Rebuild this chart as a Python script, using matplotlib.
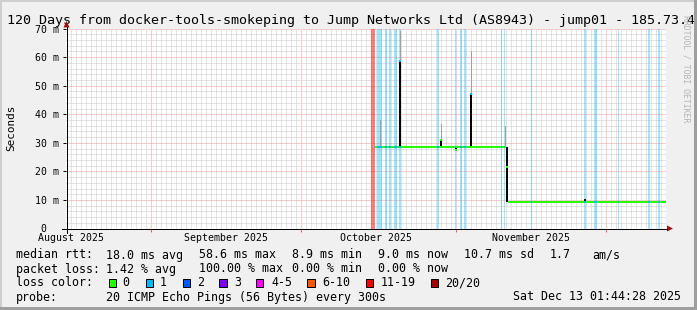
import datetime as dt
import matplotlib
matplotlib.use("Agg")
import matplotlib.pyplot as plt
import matplotlib.dates as mdates
import matplotlib.transforms as mtransforms
from matplotlib.patches import Rectangle, Polygon
from matplotlib.ticker import MultipleLocator, FuncFormatter, NullFormatter

plt.rcParams['font.family'] = ['DejaVu Sans Mono']

def ts(s):
    return dt.datetime.strptime(s, "%Y-%m-%d %H:%M")

t_end = dt.datetime(2025, 12, 13, 1, 44, 28)
t_start = t_end - dt.timedelta(days=120)

# periods with packet loss (pings lost out of 20)
loss_start = ["2025-10-15 03:00", "2025-10-16 08:10", "2025-10-17 22:30", "2025-10-18 17:45",
              "2025-10-19 17:45", "2025-10-20 17:45", "2025-10-28 08:10", "2025-10-31 22:30",
              "2025-11-01 22:30", "2025-11-02 17:45", "2025-11-10 03:20", "2025-11-10 17:45",
              "2025-11-16 03:20", "2025-11-26 17:45", "2025-11-28 17:45", "2025-12-03 13:00",
              "2025-12-09 13:00", "2025-12-11 13:00"]
loss_end = ["2025-10-15 22:30", "2025-10-17 08:10", "2025-10-18 08:10", "2025-10-19 03:20",
            "2025-10-20 08:10", "2025-10-21 03:20", "2025-10-28 15:20", "2025-11-01 03:20",
            "2025-11-02 08:10", "2025-11-03 03:20", "2025-11-10 08:10", "2025-11-10 22:30",
            "2025-11-16 08:10", "2025-11-27 03:20", "2025-11-29 08:10", "2025-12-03 17:45",
            "2025-12-09 22:30", "2025-12-11 22:30"]
loss_pings = [15, 1, 1, 1, 1, 1, 1, 1, 1, 1, 1, 1, 1, 1, 1, 1, 1, 1]

# median rtt (ms), flat stretches
med_start = ["2025-10-15 22:00", "2025-11-11 12:00"]
med_end = ["2025-11-11 04:00", "2025-12-13 01:44"]
med_value = [28.4, 9.2]

# single steps with a spread of ping times (ms)
spike_time = ["2025-10-16 22:30", "2025-10-20 22:30", "2025-10-29 03:20", "2025-11-01 00:10",
              "2025-11-04 03:20", "2025-11-10 22:30", "2025-11-11 08:10", "2025-11-26 22:30"]
spike_base = [28.4, 28.4, 28.4, 27.6, 28.4, 28.4, 9.2, 9.2]
spike_dense = [28.4, 58.6, 31.0, 28.4, 47.2, 28.4, 28.4, 10.4]
spike_smoke = [38.0, 69.0, 36.5, 28.4, 62.0, 35.8, 28.4, 10.4]
spike_median = [None, 58.6, 31.0, 27.6, 47.2, None, 21.4, None]
spike_loss = [0, 1, 0, 0, 1, 0, 0, 1]

loss_labels = ["0", "1", "2", "3", "4-5", "6-10", "11-19", "20/20"]
loss_limits = [0, 1, 2, 3, 5, 10, 19, 20]
loss_colors = ["#26ff00", "#00b8ff", "#0059ff", "#7e00ff", "#ff00ff", "#ff5500", "#ff0000", "#a00000"]

rtt_stats = [18.0, 58.6, 8.9, 9.0, 10.7, 1.7]
loss_stats = [1.42, 100.00, 0.00, 0.00]

title = "120 Days from docker-tools-smokeping to Jump Networks Ltd (AS8943) - jump01 - 185.73.4"
probe = "20 ICMP Echo Pings (56 Bytes) every 300s"
stamp = "Sat Dec 13 01:44:28 2025"


def loss_color(n):
    for lim, c in zip(loss_limits, loss_colors):
        if n <= lim:
            return c
    return loss_colors[-1]


W, H = 697, 310
X0, Y0, XS, YS = 66, 228.5, 600, 200

fig = plt.figure(figsize=(W / 100, H / 100), dpi=100, facecolor='#f0f0f0')

ax_bg = fig.add_axes([0, 0, 1, 1], zorder=-1)
ax_bg.set_xlim(0, W)
ax_bg.set_ylim(H, 0)
ax_bg.axis('off')

ax = fig.add_axes([X0 / W, (H - Y0) / H, XS / W, YS / H])
ax.set_facecolor('white')
for s in ax.spines.values():
    s.set_visible(False)
ax.set_axisbelow(True)

# loss bars
for s, e, n in zip(loss_start, loss_end, loss_pings):
    a = 0.5 if n > 10 else 0.36
    ax.axvspan(ts(s), ts(e), color=loss_color(n), alpha=a, lw=0, zorder=1)

# smoke
for t, b, d, sm in zip(spike_time, spike_base, spike_dense, spike_smoke):
    t = ts(t)
    if sm > d:
        ax.bar(t, sm - d, bottom=d, width=0.2, color='#a0a0a0', lw=0, zorder=2)
    if d > b:
        ax.bar(t, d - b, bottom=b, width=0.4, color='black', lw=0, zorder=2)

# median line, coloured by loss
for s, e, v in zip(med_start, med_end, med_value):
    ax.hlines(v, ts(s), ts(e), color=loss_colors[0], lw=1.45, zorder=3)
    for ls, le, n in zip(loss_start, loss_end, loss_pings):
        a, b = max(ts(s), ts(ls)), min(ts(e), ts(le))
        if a < b and n <= 3:
            ax.hlines(v, a, b, color=loss_color(n), lw=1.45, zorder=3)
for t, m, n in zip(spike_time, spike_median, spike_loss):
    if m is not None:
        ax.plot(ts(t), m, marker='s', ms=1.6, mew=0, color=loss_color(n), zorder=4)

ax.set_xlim(t_start, t_end)
ax.set_ylim(0, 70)
ax.xaxis.set_major_locator(mdates.MonthLocator())
ax.xaxis.set_minor_locator(mdates.DayLocator())
ax.xaxis.set_major_formatter(NullFormatter())
ax.yaxis.set_major_locator(MultipleLocator(10))
ax.yaxis.set_minor_locator(MultipleLocator(2))
ax.yaxis.set_major_formatter(FuncFormatter(lambda v, p: "0  " if v == 0 else "%d m" % v))

ax.grid(which='minor', color='#c8c8c8', ls=(0, (1, 1)), lw=0.72)
ax.grid(which='major', color='#f09a9a', ls=(0, (1, 1)), lw=0.72)
ax.tick_params(axis='y', which='major', length=2.5, width=0.72, pad=2.6, labelsize=7.15, color='black')
ax.tick_params(axis='x', which='major', length=2.5, width=0.72, color='#e06060')
ax.tick_params(which='minor', length=0)

# month labels in the middle of each month
tr = mtransforms.blended_transform_factory(ax.transData, ax_bg.transData)
m = dt.datetime(t_start.year, t_start.month, 1)
while m < t_end:
    mid = m + dt.timedelta(days=15)
    if t_start <= mid <= t_end:
        ax.text(mid, 241, mid.strftime("%B %Y"), transform=tr, ha='center', va='baseline',
                fontsize=7.15, clip_on=False)
    m = dt.datetime(m.year + (m.month // 12), m.month % 12 + 1, 1)

# texts
ax_bg.text(7, 24, title, fontsize=9.6, va='baseline', ha='left')
ax_bg.text(11, 128, "Seconds", rotation=90, fontsize=7.9, ha='center', va='center')
ax_bg.text(686, 15, "RRDTOOL / TOBI OETIKER", rotation=270, fontsize=5.9, color='#b4b4b4',
           ha='center', va='top')

fs = 8.4
ax_bg.text(15.5, 258.5, "median rtt:", fontsize=fs, va='baseline')
rtt_x = [106, 199, 292.5, 378, 464, 550]
rtt_fmt = ["%.1f ms avg", "%.1f ms max", "%.1f ms min", "%.1f ms now", "%.1f ms sd", "%.1f"]
for x, f, v in zip(rtt_x, rtt_fmt, rtt_stats):
    ax_bg.text(x, 258.5, f % v, fontsize=fs, va='baseline')
ax_bg.text(592, 258.5, "am/s", fontsize=fs, va='baseline')

ax_bg.text(15.5, 272.5, "packet loss:", fontsize=fs, va='baseline')
loss_x = [106, 199, 292.5, 378]
loss_fmt = ["%.2f %% avg", "%.2f %% max", "%.2f %% min", "%.2f %% now"]
for x, f, v in zip(loss_x, loss_fmt, loss_stats):
    ax_bg.text(x, 272.5, f % v, fontsize=fs, va='baseline')

ax_bg.text(15.5, 286.5, "loss color:", fontsize=fs, va='baseline')
box_x = [108.7, 145.7, 182.7, 219.3, 256, 307.3, 365.7, 431]
lab_x = [122.5, 159.8, 197.5, 234.2, 271, 322, 380.2, 445]
for bx, lx, lab, c in zip(box_x, lab_x, loss_labels, loss_colors):
    ax_bg.add_patch(Rectangle((bx, 278.5), 7.3, 8, facecolor=c, edgecolor='black', lw=0.72))
    ax_bg.text(lx, 286.5, lab, fontsize=fs, va='baseline')

ax_bg.text(15.5, 300.5, "probe:", fontsize=fs, va='baseline')
ax_bg.text(106, 300.5, probe, fontsize=fs, va='baseline')
ax_bg.text(681, 300.5, stamp, fontsize=fs, va='baseline', ha='right')

# axes, arrows and frame on top
ax_fg = fig.add_axes([0, 0, 1, 1], zorder=10)
ax_fg.set_xlim(0, W)
ax_fg.set_ylim(H, 0)
ax_fg.axis('off')
ax_fg.plot([X0 - 4, X0 + XS + 1], [Y0, Y0], color='black', lw=0.72)
ax_fg.plot([X0 + 0.5, X0 + 0.5], [Y0 + 4, Y0 - YS - 2], color='black', lw=0.72)
ax_fg.add_patch(Polygon([(X0 + XS + 1, Y0 - 3), (X0 + XS + 7, Y0), (X0 + XS + 1, Y0 + 3)],
                        closed=True, color='#a01010', lw=0))
ax_fg.add_patch(Polygon([(X0 - 2.5, Y0 - YS - 1), (X0 + 0.5, Y0 - YS - 7.5), (X0 + 3.5, Y0 - YS - 1)],
                        closed=True, color='#a01010', lw=0))
ax_fg.add_patch(Rectangle((0, 0), W, 2, color='#cfcfcf', lw=0))
ax_fg.add_patch(Rectangle((0, 0), 2, H, color='#cfcfcf', lw=0))
ax_fg.add_patch(Rectangle((0, H - 3), W, 3, color='#9e9e9e', lw=0))
ax_fg.add_patch(Rectangle((W - 3, 0), 3, H, color='#9e9e9e', lw=0))

fig.savefig("out.png", dpi=100, facecolor=fig.get_facecolor())
